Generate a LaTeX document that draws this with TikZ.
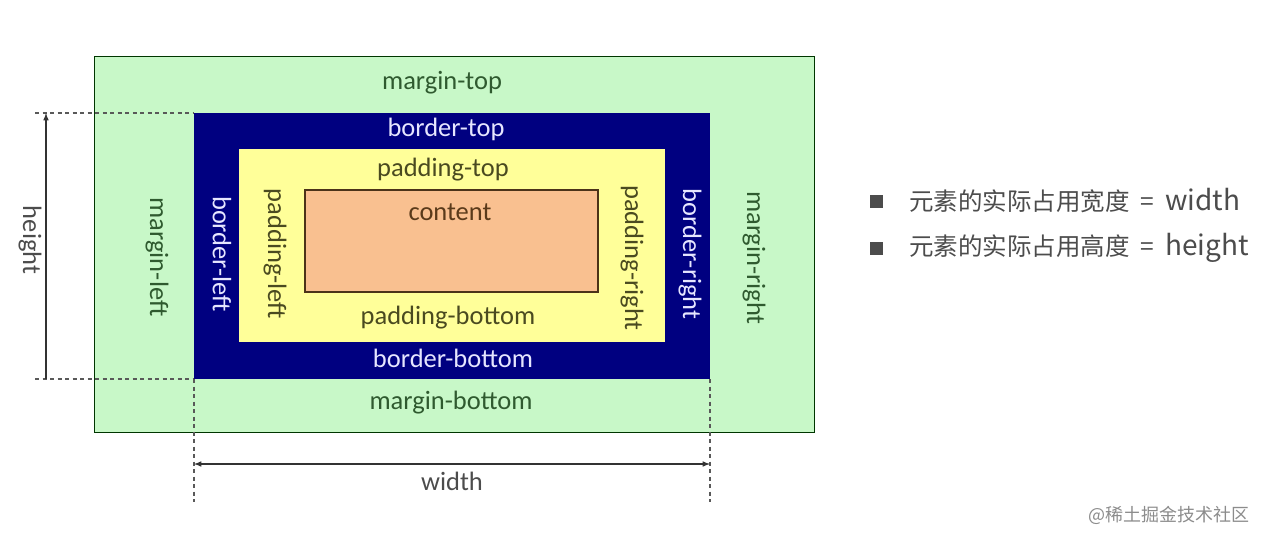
\documentclass[tikz,border=0pt]{standalone}
\usepackage{fontspec}
\setmainfont{Carlito}
\newfontfamily\cjk{Noto Sans CJK SC}
\begin{document}
\begin{tikzpicture}[x=1pt,y=-1pt,
  lbl/.style={font=\fontsize{26.5}{26.5}\selectfont, inner sep=0pt},
  mtext/.style={lbl, text=mgtxt},
  btext/.style={lbl, text=bdtxt},
  ptext/.style={lbl, text=pdtxt},
  ctext/.style={lbl, text=cttxt},
  dimline/.style={draw=black!80, line width=1.5pt},
  guide/.style={draw=black!65, dash pattern=on 4pt off 3.5pt, line width=1.2pt},
  side/.style={rotate=-90},
  rtext/.style={font=\cjk\fontsize{24.5}{24.5}\selectfont, text=black!70, anchor=west, inner sep=0pt},
  bullet/.style={fill=black!70, minimum size=13pt, inner sep=0pt}
]
\definecolor{mgfill}{HTML}{C8F8C8}
\definecolor{mgtxt}{HTML}{2F5A2F}
\definecolor{bdfill}{HTML}{000080}
\definecolor{bdtxt}{HTML}{E6E6FF}
\definecolor{pdfill}{HTML}{FFFF99}
\definecolor{pdtxt}{HTML}{4A4A20}
\definecolor{ctfill}{HTML}{F9C090}
\definecolor{cttxt}{HTML}{5A3A1A}
\useasboundingbox (0,0) rectangle (1266,543);
% boxes
\draw[fill=mgfill, draw=black!65!green!60!black, line width=1pt] (94,57) rectangle (814,432);
\fill[bdfill] (194,113) rectangle (710,379);
\fill[pdfill] (239,149) rectangle (665,342);
\draw[fill=ctfill, draw=black!60!brown, line width=1.3pt] (305,190) rectangle (598,292);
% labels
\node[mtext] (mt) at (442,83) {margin-top};
\node[btext] (bt) at (446,129) {border-top};
\node[ptext] (pt) at (443,170) {padding-top};
\node[ctext] (ct) at (450,212) {content};
\node[ptext] (pb) at (448,318) {padding-bottom};
\node[btext] (bb) at (453,358) {border-bottom};
\node[mtext] (mb) at (451,403) {margin-bottom};
\node[mtext,side] (ml) at (157,257) {margin-left};
\node[btext,side] (bl) at (222,254) {border-left};
\node[ptext,side] (pl) at (275,254) {padding-left};
\node[ptext,side] (pr) at (632,258) {padding-right};
\node[btext,side] (br) at (690,254) {border-right};
\node[mtext,side] (mr) at (754,258) {margin-right};
% guides
\coordinate (gt0) at (35,113); \coordinate (gt1) at (194,113);
\coordinate (gb0) at (35,379); \coordinate (gb1) at (194,379);
\coordinate (gl0) at (194,379); \coordinate (gl1) at (194,502);
\coordinate (gr0) at (710,379); \coordinate (gr1) at (710,502);
\draw[guide] (gt0) -- (gt1);
\draw[guide] (gb0) -- (gb1);
\draw[guide] (gl0) -- (gl1);
\draw[guide] (gr0) -- (gr1);
% dimension arrows
\coordinate (ha) at (46,379); \coordinate (hb) at (46,113);
\coordinate (wa) at (194,464); \coordinate (wb) at (710,464);
\draw[dimline, -latex] (ha) -- (hb);
\draw[dimline, latex-latex] (wa) -- (wb);
\node[lbl, text=black!70, side] (hl) at (30,240) {height};
\node[lbl, text=black!70] (wl) at (452,481) {width};
% right list
\node[bullet] (b1) at (876,201) {};
\node[bullet] (b2) at (876,248) {};
\node[rtext] (t1) at (909,201) {元素的实际占用宽度\hspace{11pt}=\hspace{11pt}{\fontsize{28}{28}\selectfont width}};
\node[rtext] (t2) at (909,248) {元素的实际占用高度\hspace{11pt}=\hspace{11pt}{\fontsize{28}{28}\selectfont height}};
% watermark
\node[font=\cjk\fontsize{18}{18}\selectfont, text=black!45, anchor=east, inner sep=0pt] (wm) at (1250,515) {@稀土掘金技术社区};
\end{tikzpicture}
\end{document}
